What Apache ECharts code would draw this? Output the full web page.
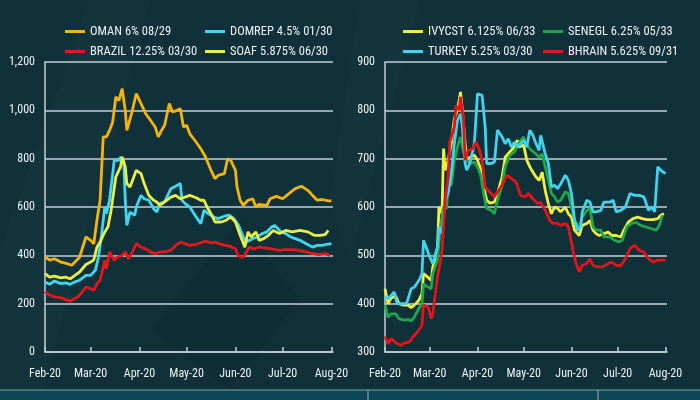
<!DOCTYPE html>
<html><head><meta charset="utf-8">
<script src="https://cdn.jsdelivr.net/npm/echarts@6/dist/echarts.min.js"></script>
<style>html,body{margin:0;padding:0;background:#10303a;}#c{width:700px;height:400px;}</style>
</head><body><div id="c"></div>
<script>
// Day offsets from 1 Feb 2020, values in bp
const omanDays = [0,3,6,10,13,17,19,22,26,29,31,33,35,37,39,41,43,45,47,49,51,52,55,58,61,64,67,70,72,74,76,79,81,84,86,88,90,91,92,96,99,102,105,108,110,114,116,118,121,122,124,126,129,132,134,136,141,143,147,151,155,159,163,167,170,173,176,180,182];
const omanVals = [393,380,386,372,368,359,372,393,476,462,448,545,628,890,890,917,952,1055,1041,1090,1000,917,986,1069,1028,986,959,931,890,917,938,1028,993,1000,1007,931,938,945,903,869,841,807,759,717,731,738,800,793,752,683,628,607,628,634,600,611,607,634,644,634,655,676,686,669,648,628,631,625,625];
const domrepDays = [0,3,6,10,13,16,19,22,26,29,32,34,36,38,39,41,44,45,47,48,50,51,52,54,55,57,58,61,63,66,69,71,73,76,80,83,86,87,89,92,96,99,101,104,107,110,114,117,120,123,126,128,132,135,138,141,144,146,150,153,156,159,162,166,170,173,176,179,182];
const domrepVals = [290,280,294,283,286,280,290,297,317,317,338,393,490,600,572,628,793,800,793,807,793,628,524,579,586,566,600,648,634,628,593,579,614,621,676,686,697,628,614,600,559,531,586,572,559,552,562,566,552,524,476,455,469,476,490,497,517,524,497,490,476,469,462,448,434,441,441,445,448];
const brazilDays = [0,3,6,10,13,16,19,22,26,29,31,33,35,38,39,41,44,46,49,51,53,55,58,61,64,67,70,73,76,80,83,86,89,92,96,99,102,105,108,112,115,118,121,123,126,130,133,136,140,144,149,153,157,161,166,170,174,178,181];
const brazilVals = [248,235,228,225,217,211,221,235,269,262,255,283,297,379,345,414,379,393,400,414,386,407,448,434,427,414,407,414,414,421,441,455,448,441,445,452,459,452,455,445,441,436,427,396,393,434,427,434,431,427,421,424,424,421,414,407,403,407,400];
const soafDays = [0,3,6,10,13,16,19,22,26,29,31,33,35,38,40,42,45,46,48,49,51,52,54,56,58,61,63,66,69,71,73,76,80,83,86,89,92,96,99,101,103,106,108,112,115,118,121,124,127,129,131,134,136,139,142,145,149,153,157,162,167,171,175,178,180];
const soafVals = [324,310,314,307,310,303,317,331,362,372,381,434,455,497,517,586,724,738,766,807,766,697,683,717,752,738,697,648,628,621,607,621,641,648,634,641,648,638,628,628,600,566,538,538,545,559,538,483,434,497,476,497,462,469,483,503,490,503,497,503,497,483,483,486,503];

const ivyDays = [0,2,4,7,9,12,15,17,19,22,24,25,27,30,31,34,35,37,38,39,41,43,45,47,49,50,52,53,55,58,60,62,64,66,68,71,73,76,78,81,83,86,87,90,92,94,96,98,100,102,104,106,108,110,112,114,117,119,121,123,126,128,131,133,135,137,139,142,145,147,150,153,155,158,161,164,167,170,174,177,179,181];
const ivyVals = [431,400,412,415,400,397,397,392,397,407,421,462,457,448,476,503,600,586,721,676,697,731,783,800,838,807,731,697,703,707,697,679,641,614,608,610,628,662,703,714,721,738,724,728,697,683,672,662,655,672,634,607,586,600,597,590,600,586,579,552,541,562,566,572,552,545,541,545,548,541,541,538,552,569,576,579,576,574,574,576,583,586];
const senDays = [0,2,4,7,9,12,15,17,19,22,24,25,27,30,31,34,36,38,40,41,43,45,47,49,51,53,55,58,60,62,64,66,69,71,73,76,78,81,84,87,90,92,95,98,100,102,104,106,108,110,112,114,117,119,121,123,126,128,131,133,135,137,140,142,146,149,152,154,157,160,163,166,169,173,176,178,180];
const senVals = [397,372,379,379,369,366,367,364,372,390,400,441,436,431,462,490,559,600,597,648,645,697,724,745,714,697,690,693,683,666,628,597,593,586,614,645,683,707,714,733,745,728,717,710,703,710,683,655,628,621,610,614,631,628,600,572,559,579,593,597,559,552,552,538,538,531,528,531,559,566,568,562,559,555,552,562,583];
const turDays = [0,2,6,8,10,14,17,19,22,24,25,27,29,31,34,35,37,39,41,43,45,47,49,50,52,53,55,58,59,60,63,65,66,69,71,73,76,78,80,82,84,86,88,90,92,94,96,98,100,101,104,106,108,110,112,114,117,119,121,123,125,127,128,131,133,135,137,140,142,146,148,150,153,156,159,162,165,168,171,173,175,177,179,182];
const turVals = [415,410,424,400,400,400,431,434,448,462,531,514,497,483,517,559,545,614,628,669,731,779,793,772,690,676,690,731,783,834,831,766,690,690,693,759,745,731,741,724,734,724,731,738,724,759,748,731,717,748,710,690,641,645,638,648,666,655,628,572,552,559,590,614,610,590,590,593,610,610,614,590,593,600,628,624,624,621,593,600,590,683,676,669];
const bhrDays = [0,2,4,7,10,13,16,18,21,24,25,28,30,31,34,36,37,39,41,42,45,46,48,49,51,52,54,57,59,61,63,65,68,71,73,76,79,82,85,88,91,93,96,99,101,104,107,109,112,114,117,119,122,124,126,128,131,133,135,138,141,145,147,150,153,156,159,162,165,168,171,174,177,180,182];
const bhrVals = [332,317,328,319,314,319,321,331,341,355,397,393,369,379,455,490,510,614,662,734,766,810,800,828,779,697,717,721,734,721,697,641,631,621,631,645,666,659,652,624,621,628,617,607,610,593,572,566,566,562,566,559,510,483,466,479,483,493,479,476,476,483,486,479,479,493,514,521,510,507,493,486,490,490,490];

const leftNames = ['OMAN 6% 08/29','DOMREP 4.5% 01/30','BRAZIL 12.25% 03/30','SOAF 5.875% 06/30'];
const rightNames = ['IVYCST 6.125% 06/33','SENEGL 6.25% 05/33','TURKEY 5.25% 03/30','BHRAIN 5.625% 09/31'];
// month starts as day offsets from 1 Feb 2020, and their labels
const monthDays = [0,29,60,90,121,151,182];
const monthLabels = ['Feb-20','Mar-20','Apr-20','May-20','Jun-20','Jul-20','Aug-20'];

// pick a narrow font if one is installed, else shrink a regular one
function hasFont(f){
  const c = document.createElement('canvas').getContext('2d');
  const s = 'OMAN 6% 08/29 BRAZIL mmmwwwiiilll';
  c.font = '40px monospace'; const a = c.measureText(s).width;
  c.font = '40px "' + f + '", monospace'; const b = c.measureText(s).width;
  return Math.abs(a-b) > 0.5;
}
const narrowCands = ['Liberation Sans Narrow','Arial Narrow','Roboto Condensed','Noto Sans Condensed','Open Sans Condensed'];
const narrow = narrowCands.find(hasFont);
const FONT = narrow ? '"' + narrow + '",sans-serif' : '"Liberation Sans",Arial,sans-serif';
const LEG_FS = narrow ? 12.5 : 10;
const AX_FS = narrow ? 12 : 10.5;

const TXT = '#eef2f3';
const GRIDC = '#c5cfd2';

const pairs = (d,v) => d.map((x,i)=>[x, v[i]]);

function xAxis(gi){
  return {type:'value', gridIndex:gi, min:0, max:183,
    axisLine:{show:true, onZero:false, lineStyle:{color:GRIDC, width:1.5}},
    axisTick:{show:true, inside:true, length:5, lineStyle:{color:GRIDC, width:1.5}, customValues:monthDays},
    axisLabel:{color:TXT, fontFamily:FONT, fontSize:AX_FS, margin:16, customValues:monthDays,
      formatter: v => { const i = monthDays.indexOf(Math.round(v)); return i>=0 ? monthLabels[i] : ''; }},
    splitLine:{show:false}};
}
function yAxis(gi,min,max,interval,fmt){
  return {type:'value', gridIndex:gi, min:min, max:max, interval:interval,
    axisLine:{show:true, lineStyle:{color:GRIDC, width:1.5}},
    axisTick:{show:false},
    axisLabel:{color:TXT, fontFamily:FONT, fontSize:AX_FS, margin:10, formatter:fmt},
    splitLine:{show:true, lineStyle:{color:GRIDC, width:1.5}}};
}
function line(name, gi, d, v, color){
  return {name:name, type:'line', xAxisIndex:gi, yAxisIndex:gi, data:pairs(d,v),
    showSymbol:false, symbol:'none', lineStyle:{color:color, width:2.8}, itemStyle:{color:color}};
}
function leg(name, left, top){
  return {data:[{name:name, icon:'rect'}], left:left, top:top, padding:0, itemWidth:20, itemHeight:3,
    textStyle:{color:TXT, fontFamily:FONT, fontSize:LEG_FS}, selectedMode:false};
}

const colors = {oman:'#f3b40c', domrep:'#3fd6ef', brazil:'#e5161c', soaf:'#e9ef45',
                ivy:'#eef03e', sen:'#1fa64a', tur:'#40d4ee', bhr:'#e3141a'};

const chart = echarts.init(document.getElementById('c'), null, {renderer:'canvas'});
chart.setOption({
  backgroundColor:'#10303a',
  animation:false,
  graphic:[
    {type:'polygon', shape:{points:[[0,250],[90,0],[150,0],[40,400],[0,400]]}, style:{fill:'rgba(255,255,255,0.02)'}, silent:true, z:-10},
    {type:'polygon', shape:{points:[[150,330],[240,220],[300,300],[230,390]]}, style:{fill:'rgba(0,0,0,0.06)'}, silent:true, z:-10},
    {type:'polygon', shape:{points:[[360,0],[420,0],[350,260],[330,200]]}, style:{fill:'rgba(255,255,255,0.02)'}, silent:true, z:-10},
    {type:'rect', shape:{x:0, y:390, width:700, height:10}, style:{fill:'#0c4753'}, silent:true},
    {type:'line', shape:{x1:0, y1:390, x2:700, y2:390}, style:{stroke:'#7da4ab', lineWidth:1.2}, silent:true},
    {type:'line', shape:{x1:368, y1:390, x2:368, y2:400}, style:{stroke:'#7da4ab', lineWidth:1.2}, silent:true},
    {type:'line', shape:{x1:598, y1:390, x2:598, y2:400}, style:{stroke:'#7da4ab', lineWidth:1.2}, silent:true}
  ],
  legend:[
    leg(leftNames[0],65,25), leg(leftNames[1],205,25), leg(leftNames[2],65,45), leg(leftNames[3],205,45),
    leg(rightNames[0],403,25), leg(rightNames[1],543,25), leg(rightNames[2],403,45), leg(rightNames[3],543,45)
  ],
  grid:[
    {left:45, right:367, top:62, bottom:48},
    {left:385, right:33, top:62, bottom:48}
  ],
  xAxis:[xAxis(0), xAxis(1)],
  yAxis:[
    yAxis(0,0,1200,200, v => v.toLocaleString('en-US')),
    yAxis(1,300,900,100, v => String(v))
  ],
  series:[
    line(leftNames[0],0,omanDays,omanVals,colors.oman),
    line(leftNames[1],0,domrepDays,domrepVals,colors.domrep),
    line(leftNames[2],0,brazilDays,brazilVals,colors.brazil),
    line(leftNames[3],0,soafDays,soafVals,colors.soaf),
    line(rightNames[0],1,ivyDays,ivyVals,colors.ivy),
    line(rightNames[1],1,senDays,senVals,colors.sen),
    line(rightNames[2],1,turDays,turVals,colors.tur),
    line(rightNames[3],1,bhrDays,bhrVals,colors.bhr)
  ]
});
</script></body></html>
